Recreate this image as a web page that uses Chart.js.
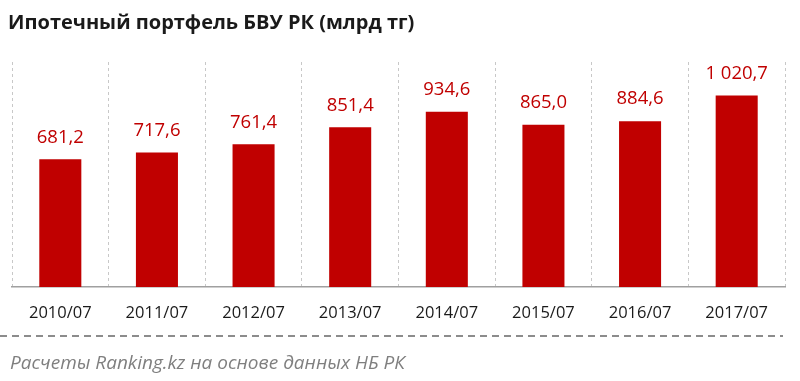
<!DOCTYPE html>
<html><head><meta charset="utf-8">
<script src="https://cdn.jsdelivr.net/npm/chart.js@4/dist/chart.umd.min.js"></script>
<style>
html,body{margin:0;padding:0;background:#fff;width:800px;height:381px;overflow:hidden;}
#wrap{position:absolute;left:0;top:0;width:800px;height:381px;}
#title{position:absolute;left:8px;top:10px;font:bold 20px "Open Sans",sans-serif;color:#1a1a1a;line-height:24px;white-space:nowrap;}
#sep{position:absolute;left:0;top:335px;width:783px;height:2px;background:repeating-linear-gradient(to right,#8c8c8c 0 7px,transparent 7px 12px);}
#foot{position:absolute;left:10px;top:350px;font:italic 19px "Open Sans",sans-serif;color:#7f7f7f;line-height:24px;white-space:nowrap;}
canvas{position:absolute;left:0;top:0;}
</style></head>
<body><div id="wrap">
<canvas id="c" width="800" height="381"></canvas>
<div id="title">Ипотечный портфель БВУ РК (млрд тг)</div>
<div id="sep"></div>
<div id="foot">Расчеты Ranking.kz на основе данных НБ РК</div>
</div>
<script>
const categories = ["2010/07","2011/07","2012/07","2013/07","2014/07","2015/07","2016/07","2017/07"];
const values = [681.2, 717.6, 761.4, 851.4, 934.6, 865.0, 884.6, 1020.7];
const seriesName = "Ипотечный портфель";

function fmt(v){
  const s = v.toFixed(1).split('.');
  const intPart = s[0].replace(/\B(?=(\d{3})+(?!\d))/g, ' ');
  return intPart + ',' + s[1];
}

const labelPlugin = {
  id:'barLabels',
  afterDatasetsDraw(chart){
    const ctx = chart.ctx;
    const meta = chart.getDatasetMeta(0);
    ctx.save();
    ctx.font = '18.5px "Open Sans", sans-serif';
    ctx.fillStyle = '#c00000';
    ctx.textAlign = 'center';
    ctx.textBaseline = 'middle';
    meta.data.forEach((bar,i)=>{
      ctx.fillText(fmt(chart.data.datasets[0].data[i]), bar.x, bar.y - 22);
    });
    ctx.restore();
  }
};

new Chart(document.getElementById('c'),{
  type:'bar',
  data:{labels:categories,datasets:[{label:seriesName,data:values,backgroundColor:'#c00000',borderWidth:0,categoryPercentage:0.435,barPercentage:1}]},
  options:{
    responsive:false,animation:false,
    layout:{padding:{left:12,right:15,top:62,bottom:54}},
    plugins:{legend:{display:false},tooltip:{enabled:false},title:{display:false}},
    scales:{
      x:{
        afterFit:(s)=>{s.height=40;},
        grid:{display:true,offset:true,color:'#c8c8c8',lineWidth:1,drawTicks:false,tickLength:0},
        border:{display:true,color:'#a0a0a0',width:1.5,dash:[3,3]},
        ticks:{padding:16,color:'#1a1a1a',font:{family:'"Open Sans", sans-serif',size:16.5}}
      },
      y:{display:false,min:0,max:1200}
    }
  },
  plugins:[labelPlugin]
});
</script>
</body></html>
